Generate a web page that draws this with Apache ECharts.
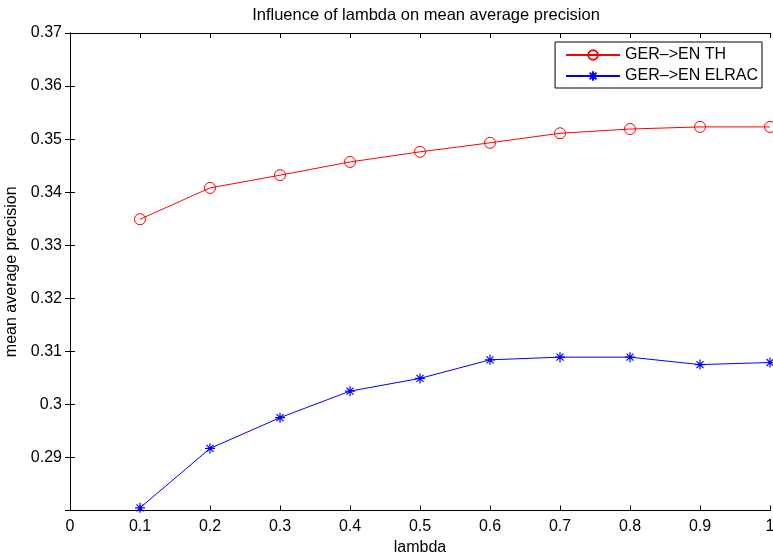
<!DOCTYPE html>
<html>
<head>
<meta charset="utf-8">
<script src="https://cdn.jsdelivr.net/npm/echarts@6/dist/echarts.min.js"></script>
<style>html,body{margin:0;padding:0;background:#fff}#c{width:773px;height:554px}</style>
</head>
<body>
<div id="c"></div>
<script>
var lambdas = [0.1, 0.2, 0.3, 0.4, 0.5, 0.6, 0.7, 0.8, 0.9, 1.0];
var thValues = [0.3349, 0.3408, 0.3432, 0.3457, 0.3476, 0.3493, 0.3511, 0.3519, 0.3523, 0.3523];
var elracValues = [0.2805, 0.2917, 0.2975, 0.3025, 0.3049, 0.3084, 0.3089, 0.3089, 0.3075, 0.3079];
var seriesNames = ['GER\u2013>EN TH', 'GER\u2013>EN ELRAC'];
var titleText = 'Influence of lambda on mean average precision';
var xName = 'lambda';
var yName = 'mean average precision';

var FONT = '"Liberation Sans", Arial, Helvetica, sans-serif';
function pairs(xs, ys){ return xs.map(function(x,i){ return [x, ys[i]]; }); }
var star = 'path://M0,-10L0,10M-10,0L10,0M-7,-7L7,7M-7,7L7,-7';

var chart = echarts.init(document.getElementById('c'), null, {renderer:'canvas'});
var axisLine = {show:true, lineStyle:{color:'#000', width:1}};
chart.setOption({
  animation:false,
  backgroundColor:'#fff',
  title:{text:titleText, left:421, top:2, textAlign:'center',
    textStyle:{fontFamily:FONT, fontSize:16.5, fontWeight:'normal', color:'#000'}},
  grid:{left:70, right:3, top:33, bottom:43.5, containLabel:false, outerBoundsMode:'none'},
  legend:{
    right:11, top:42, orient:'vertical', itemGap:5, itemWidth:54, itemHeight:12,
    padding:[5,4,4,10],
    borderColor:'#000', borderWidth:1, backgroundColor:'#fff',
    textStyle:{fontFamily:FONT, fontSize:16, color:'#000'},
    data:seriesNames
  },
  xAxis:[{
    type:'value', min:0, max:1, interval:0.1, position:'bottom',
    name:xName, nameLocation:'middle', nameGap:27,
    nameTextStyle:{fontFamily:FONT, fontSize:16, color:'#000'},
    axisLine:axisLine, axisTick:{inside:true, length:5, lineStyle:{color:'#000'}},
    axisLabel:{fontFamily:FONT, fontSize:16, color:'#000', margin:8,
      formatter:function(v){ return String(parseFloat(v.toFixed(2))); }},
    splitLine:{show:false}
  },{
    type:'value', min:0, max:1, interval:0.1, position:'top',
    axisLine:axisLine, axisTick:{inside:true, length:5, lineStyle:{color:'#000'}},
    axisLabel:{show:false}, splitLine:{show:false}
  }],
  yAxis:[{
    type:'value', min:0.28, max:0.37, interval:0.01, position:'left',
    name:yName, nameLocation:'middle', nameGap:42,
    nameTextStyle:{fontFamily:FONT, fontSize:16, color:'#000'},
    axisLine:axisLine, axisTick:{inside:true, length:5, lineStyle:{color:'#000'}},
    axisLabel:{fontFamily:FONT, fontSize:16, color:'#000', margin:8,
      formatter:function(v){ var r=parseFloat(v.toFixed(2)); return r===0.28 ? '' : String(r); }},
    splitLine:{show:false}
  },{
    type:'value', min:0.28, max:0.37, interval:0.01, position:'right',
    axisLine:axisLine, axisTick:{inside:true, length:5, lineStyle:{color:'#000'}},
    axisLabel:{show:false}, splitLine:{show:false}
  }],
  series:[{
    name:seriesNames[0], type:'line', data:pairs(lambdas, thValues),
    symbol:'circle', symbolSize:11, showAllSymbol:true,
    lineStyle:{color:'#ff0000', width:1},
    itemStyle:{color:'rgba(0,0,0,0)', borderColor:'#ff0000', borderWidth:1}
  },{
    name:seriesNames[1], type:'line', data:pairs(lambdas, elracValues),
    symbol:star, symbolSize:10, showAllSymbol:true,
    lineStyle:{color:'#0000ff', width:1},
    itemStyle:{color:'rgba(0,0,0,0)', borderColor:'#0000ff', borderWidth:1.2}
  }]
});
</script>
</body>
</html>
